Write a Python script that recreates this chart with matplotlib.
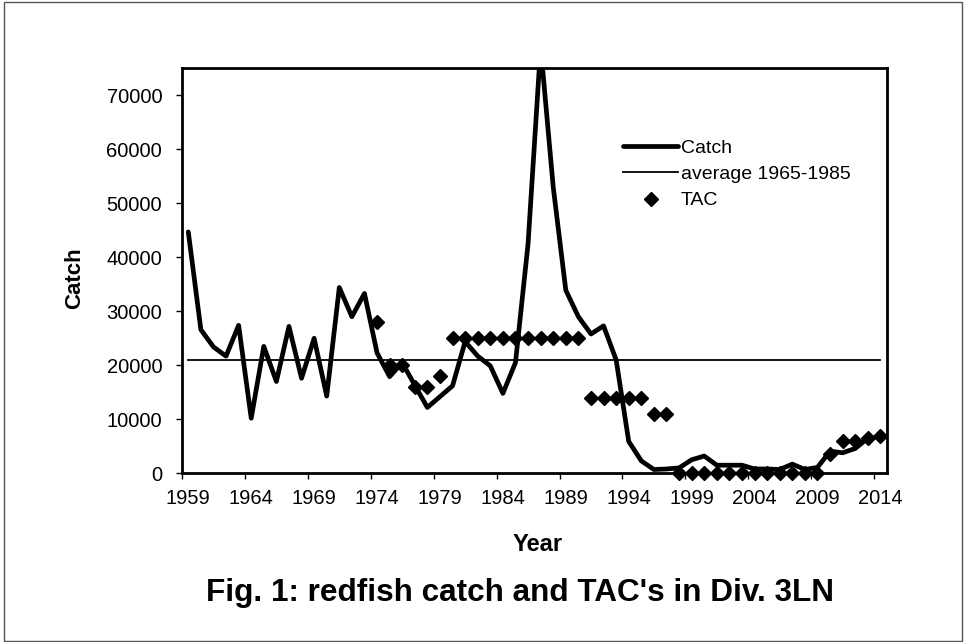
import matplotlib
matplotlib.use('Agg')
import matplotlib.pyplot as plt
from matplotlib.patches import Rectangle
from matplotlib.ticker import FixedLocator

plt.rcParams['font.family'] = ['Liberation Sans', 'DejaVu Sans']

# catch per year (t)
catch_years = list(range(1959, 2014))
catch = [44700, 26600, 23400, 21700, 27400, 10200, 23500, 17000, 27200, 17600,
         25000, 14300, 34400, 29000, 33300, 22300, 17900, 20500, 16300, 12200,
         14200, 16200, 24400, 21700, 19900, 14800, 20500, 42500, 79000, 53000,
         33900, 29000, 25800, 27300, 21000, 5900, 2300, 700, 800, 1000,
         2500, 3200, 1500, 1500, 1500, 800, 800, 700, 1700, 700,
         1100, 4100, 3800, 4600, 6500]

# TAC
tac_years = list(range(1974, 2015))
tac = [28000, 20000, 20000, 16000, 16000, 18000,
       25000, 25000, 25000, 25000, 25000, 25000, 25000, 25000, 25000, 25000, 25000,
       14000, 14000, 14000, 14000, 14000,
       11000, 11000,
       0, 0, 0, 0, 0, 0, 0, 0, 0, 0, 0, 0,
       3500, 6000, 6000, 6500, 7000]

avg_years = [1959, 2014]
avg_value = 21000

label_years = list(range(1959, 2015, 5))
y_ticks = list(range(0, 70001, 10000))

fig = plt.figure(figsize=(9.64, 6.42), dpi=100)
W, H = 964, 642
ax = fig.add_axes([182 / W, 1 - 473.3 / H, (886.7 - 182) / W, (473.3 - 68.3) / H])

ax.plot(catch_years, catch, color='black', lw=3.4, solid_capstyle='round',
        solid_joinstyle='round', label='Catch', zorder=3)
ax.plot(avg_years, [avg_value, avg_value], color='black', lw=1.3,
        label='average 1965-1985', zorder=2)
ax.plot(tac_years, tac, ls='none', marker='D', ms=7, color='black',
        label='TAC', clip_on=False, zorder=4)

ax.set_xlim(1958.5, 2014.5)
ax.set_ylim(0, 75000)

ax.set_xticks(label_years)
ax.set_xticklabels([str(y) for y in label_years])
ax.xaxis.set_minor_locator(FixedLocator([y - 0.5 for y in label_years]))
ax.tick_params(axis='x', which='major', length=0, pad=11, labelsize=14.5)
ax.tick_params(axis='x', which='minor', length=4.3, width=1, direction='out')
ax.set_yticks(y_ticks)
ax.tick_params(axis='y', length=4.3, width=1, direction='out', pad=10, labelsize=14.5)

for s in ax.spines.values():
    s.set_linewidth(2)

ax.set_ylabel('Catch', fontsize=16, fontweight='bold')
ax.yaxis.set_label_coords(-0.138, 0.482)
ax.set_xlabel('Year', fontsize=17, fontweight='bold')
ax.xaxis.set_label_coords(0.5045, -0.1486)

leg = ax.legend(loc='upper left', bbox_to_anchor=(623 / W, 1 - 139 / H),
                bbox_transform=fig.transFigure, frameon=False, fontsize=14,
                handlelength=2.83, handletextpad=0.15, labelspacing=0.45,
                borderpad=0, borderaxespad=0)

fig.text(520.5 / W, 1 - 601 / H, "Fig. 1: redfish catch and TAC's in Div. 3LN",
         fontsize=22.7, fontweight='bold', ha='center', va='baseline')

# outer frame
fig.patches.append(Rectangle((4 / W, 1 - 641 / H), (962 - 4) / W, (641 - 2) / H,
                             transform=fig.transFigure, fill=False,
                             edgecolor='#555555', lw=1))

fig.savefig('out.png', dpi=100)
